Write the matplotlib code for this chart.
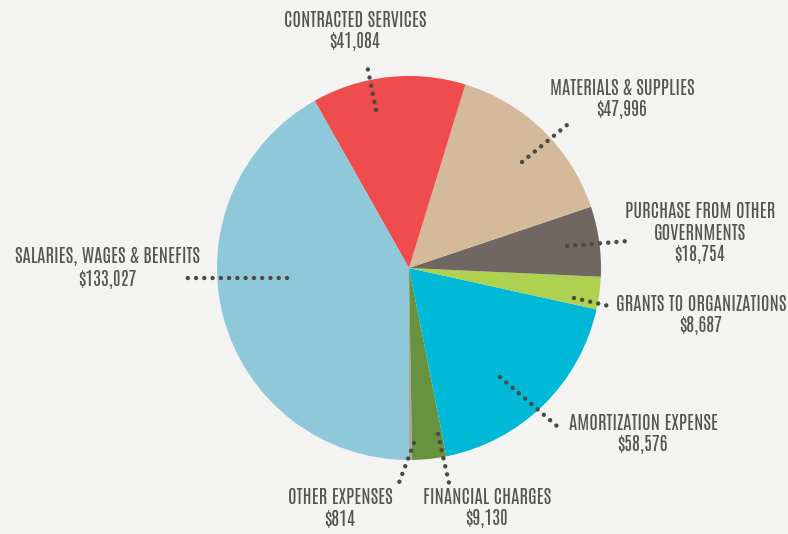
import matplotlib
matplotlib.use("Agg")
import matplotlib.pyplot as plt
from matplotlib import font_manager

categories = ["OTHER EXPENSES", "FINANCIAL CHARGES", "AMORTIZATION EXPENSE",
              "GRANTS TO ORGANIZATIONS", "PURCHASE FROM OTHER\nGOVERNMENTS",
              "MATERIALS & SUPPLIES", "CONTRACTED SERVICES",
              "SALARIES, WAGES & BENEFITS"]
values = [814, 9130, 58576, 8687, 18754, 47996, 41084, 133027]
colors = ["#aaa7a1", "#67923e", "#00b9d6", "#aed14f", "#706662",
          "#d5b99b", "#ef4c4d", "#8fc8d8"]

# label positions (pixel coords, top-left origin) and leader lines
label_pos = [(340, 508), (487, 508), (643, 434), (701, 315), (700, 233),
             (622, 99), (355, 31), (107, 268)]
leaders = [((414, 443), (397, 488)), ((438, 434), (449, 483)),
           ((500, 377), (558, 427)), ((574, 298), (609, 306)),
           ((567, 246), (628, 241)), ((522, 162), (567, 125)),
           ((376, 110), (367, 65)), ((287, 278), (184, 278))]

fam = "DejaVu Sans"
for cand in ["Antonio", "Barlow Condensed"]:
    try:
        font_manager.findfont(cand, fallback_to_default=False)
        fam = cand
        break
    except Exception:
        pass
fp = font_manager.FontProperties(family=fam, weight=400, size=13.5)

W, H = 788, 534
bg = "#f3f3f1"
fig = plt.figure(figsize=(W / 100, H / 100), dpi=100, facecolor=bg)
ax = fig.add_axes([0, 0, 1, 1], facecolor=bg)
ax.pie(values, colors=colors, startangle=270, counterclock=True,
       center=(409, H - 268), radius=192, frame=True,
       wedgeprops=dict(linewidth=0))
ax.set_xlim(0, W)
ax.set_ylim(0, H)
ax.set_aspect("equal")
ax.axis("off")

for (p0, p1) in leaders:
    ax.plot([p0[0], p1[0]], [H - p0[1], H - p1[1]], color="#4a4a48",
            linewidth=3.2, linestyle=(0, (0.01, 1.85)),
            dash_capstyle="round", zorder=5)

for cat, val, (x, y) in zip(categories, values, label_pos):
    ax.text(x, H - y, f"{cat}\n${val:,}", ha="center", va="center",
            fontproperties=fp, color="#55554f", linespacing=1.2)

fig.savefig("out.png", dpi=100, facecolor=bg)
